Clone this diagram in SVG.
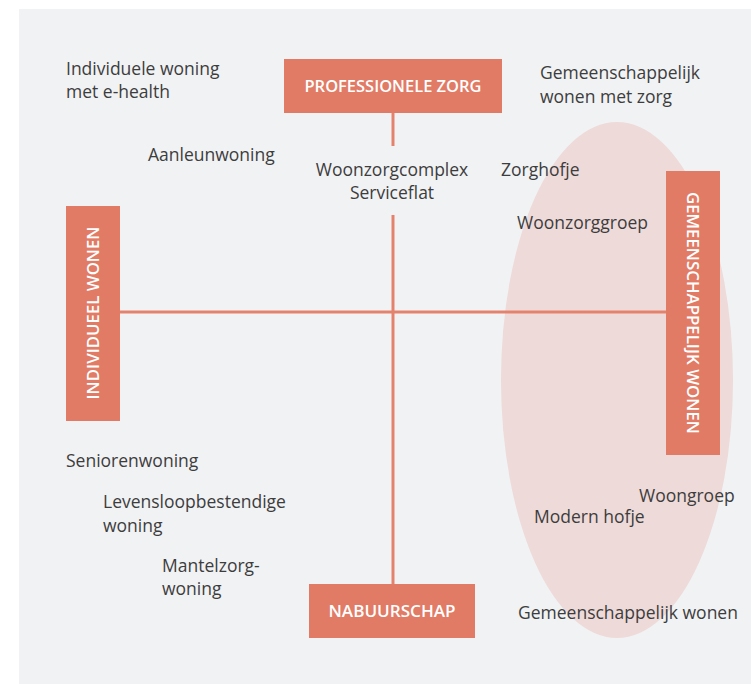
<svg xmlns="http://www.w3.org/2000/svg" width="751" height="684" viewBox="0 0 751 684">
<style>
.lbl{font-family:"Open Sans","Liberation Sans",sans-serif;font-size:17.5px;fill:#3d3d3d}
.box{fill:#e17b65}
.bt{font-family:"Open Sans","Liberation Sans",sans-serif;font-size:16px;font-weight:600;fill:#ffffff;text-anchor:middle}
.axis{stroke:#e5826d;stroke-width:3;fill:none}
</style>
<rect x="0" y="0" width="751" height="684" fill="#ffffff"/>
<rect x="19" y="9" width="732" height="675" fill="#f1f2f4"/>
<ellipse cx="617" cy="380" rx="116" ry="258" fill="#eedad8"/>
<g id="connectors">
<line class="axis" x1="393" y1="113" x2="393" y2="146"/>
<line class="axis" x1="393" y1="215" x2="393" y2="584"/>
<line class="axis" x1="120" y1="312" x2="666" y2="312"/>
</g>
<g id="professionele-zorg">
<rect class="box" x="284" y="59" width="218" height="54"/>
<text class="bt" x="393" y="92" textLength="177" lengthAdjust="spacingAndGlyphs">PROFESSIONELE ZORG</text>
</g>
<g id="nabuurschap">
<rect class="box" x="309" y="584" width="166" height="54"/>
<text class="bt" x="392" y="617" textLength="127" lengthAdjust="spacingAndGlyphs">NABUURSCHAP</text>
</g>
<g id="individueel-wonen">
<rect class="box" x="66" y="206" width="54" height="215"/>
<text class="bt" transform="translate(99 313) rotate(-90)" x="0" y="0" textLength="173" lengthAdjust="spacingAndGlyphs">INDIVIDUEEL WONEN</text>
</g>
<g id="gemeenschappelijk-wonen">
<rect class="box" x="666" y="171" width="54" height="284"/>
<text class="bt" transform="translate(687 313) rotate(90)" x="0" y="0" textLength="242" lengthAdjust="spacingAndGlyphs">GEMEENSCHAPPELIJK WONEN</text>
</g>
<g id="labels">
<text class="lbl" x="66" y="75">Individuele woning</text>
<text class="lbl" x="66" y="98">met e-health</text>
<text class="lbl" x="540" y="79">Gemeenschappelijk</text>
<text class="lbl" x="540" y="103">wonen met zorg</text>
<text class="lbl" x="148" y="161">Aanleunwoning</text>
<text class="lbl" x="392" y="176" text-anchor="middle">Woonzorgcomplex</text>
<text class="lbl" x="392" y="199" text-anchor="middle">Serviceflat</text>
<text class="lbl" x="501" y="176">Zorghofje</text>
<text class="lbl" x="517" y="229">Woonzorggroep</text>
<text class="lbl" x="66" y="467">Seniorenwoning</text>
<text class="lbl" x="103" y="508">Levensloopbestendige</text>
<text class="lbl" x="103" y="532">woning</text>
<text class="lbl" x="162" y="572">Mantelzorg-</text>
<text class="lbl" x="162" y="595">woning</text>
<text class="lbl" x="639" y="502">Woongroep</text>
<text class="lbl" x="534" y="523">Modern hofje</text>
<text class="lbl" x="518" y="619">Gemeenschappelijk wonen</text>
</g>
</svg>
